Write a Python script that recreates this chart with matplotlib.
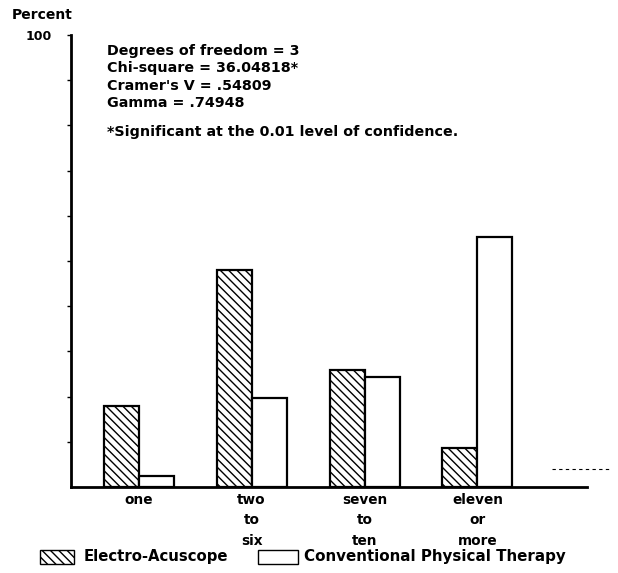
import matplotlib
matplotlib.use("Agg")
import matplotlib.pyplot as plt
from matplotlib.patches import Rectangle
from matplotlib.lines import Line2D
import numpy as np

# ---- data ----
categories = ["one", "two\nto\nsix", "seven\nto\nten", "eleven\nor\nmore"]
electro = [18.0, 48.0, 25.8, 8.6]
conventional = [2.4, 19.7, 24.3, 55.2]
series_names = ["Electro-Acuscope", "Conventional Physical Therapy"]
stats_lines = ["Degrees of freedom = 3",
               "Chi-square = 36.04818*",
               "Cramer's V = .54809",
               "Gamma = .74948"]
footnote = "*Significant at the 0.01 level of confidence."
y_ticks = [10, 20, 30, 40, 50, 60, 70, 80, 90, 100]
y_ticklabels = ["", "", "", "", "", "", "", "", "", "100"]

plt.rcParams['font.family'] = ['DejaVu Sans']
plt.rcParams['font.weight'] = 'bold'
plt.rcParams['hatch.linewidth'] = 1.0

W, H = 618, 573
fig = plt.figure(figsize=(W / 100, H / 100), dpi=100)
ax = fig.add_axes([71 / W, 1 - 487 / H, (587 - 71) / W, (487 - 35) / H])

x = np.arange(len(categories))
bw = 0.31
ax.bar(x - bw / 2, electro, width=bw, facecolor='white', edgecolor='black',
       hatch='\\\\\\\\', linewidth=1.6)
ax.bar(x + bw / 2, conventional, width=bw, facecolor='white', edgecolor='black',
       linewidth=1.6)

ax.set_xlim(-0.6, 3.97)
ax.set_ylim(0, 100)
for s in ['top', 'right']:
    ax.spines[s].set_visible(False)
ax.spines['left'].set_linewidth(2)
ax.spines['bottom'].set_linewidth(2)

ax.set_yticks(y_ticks)
ax.set_yticklabels(y_ticklabels, fontsize=9, fontweight='bold')
ax.tick_params(axis='y', direction='out', length=3, width=1, pad=11)
ax.set_xticks(x)
ax.set_xticklabels(categories, fontsize=9.8, fontweight='bold', linespacing=1.6,
                   va='top')
ax.tick_params(axis='x', length=0, pad=4)

fig.text(12 / W, 1 - 15 / H, "Percent", fontsize=10, fontweight='bold',
         ha='left', va='center')

y0 = 51
for i, line in enumerate(stats_lines):
    fig.text(107 / W, 1 - (y0 + i * 17.3) / H, line, fontsize=10.3,
             fontweight='bold', ha='left', va='center')
fig.text(107 / W, 1 - (y0 + 3 * 17.3 + 29) / H, footnote, fontsize=10.3,
         fontweight='bold', ha='left', va='center')

# faint scan artifact line at right
fig.add_artist(Line2D([552 / W, 610 / W], [1 - 469 / H, 1 - 469 / H],
                      color='black', lw=0.8, ls=(0, (3, 3))))

# legend drawn manually in figure coordinates
ly = 557
fig.add_artist(Rectangle((40 / W, 1 - (ly + 7) / H), 34 / W, 14 / H,
                         facecolor='white', edgecolor='black', lw=1,
                         hatch='\\\\\\\\', transform=fig.transFigure))
fig.text(84 / W, 1 - ly / H, series_names[0], fontsize=10.7, fontweight='bold',
         ha='left', va='center')
fig.add_artist(Rectangle((258 / W, 1 - (ly + 7) / H), 40 / W, 14 / H,
                         facecolor='white', edgecolor='black', lw=1,
                         transform=fig.transFigure))
fig.text(304 / W, 1 - ly / H, series_names[1], fontsize=10.9, fontweight='bold',
         ha='left', va='center')

fig.savefig("out.png", dpi=100)
